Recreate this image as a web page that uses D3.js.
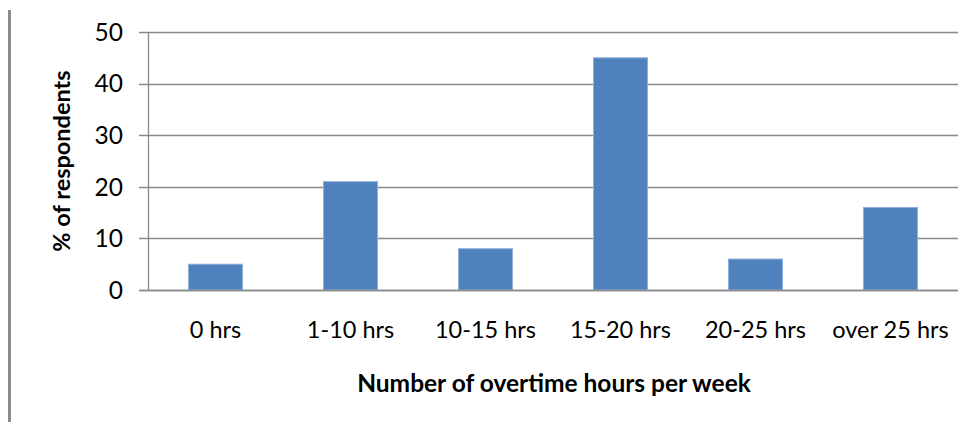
<!DOCTYPE html>
<html><head><meta charset="utf-8">
<script src="https://cdn.jsdelivr.net/npm/d3@7"></script>
<style>
html,body{margin:0;padding:0;background:#fff;}
svg text{font-family:Lato,"Open Sans",sans-serif;fill:#000;}
</style></head>
<body><svg id="c" width="973" height="425"></svg>
<script>
const categories = ["0 hrs","1-10 hrs","10-15 hrs","15-20 hrs","20-25 hrs","over 25 hrs"];
const values = [5,21,8,45,6,16];
const yTicks = [0,10,20,30,40,50];
const xTitle = "Number of overtime hours per week";
const yTitle = "% of respondents";

const svg = d3.select("#c");
const pL = 148, pR = 958, pT = 32, pB = 290;

// left border line
svg.append("line").attr("x1",9.5).attr("x2",9.5).attr("y1",10).attr("y2",422)
  .attr("stroke","#8c8c8c").attr("stroke-width",3);

const x = d3.scaleBand().domain(categories).range([pL,pR]).paddingInner(0.6).paddingOuter(0.3);
const y = d3.scaleLinear().domain([0,50]).range([pB,pT]);

// gridlines
svg.append("g").selectAll("line").data(yTicks).join("line")
  .attr("x1",pL-9).attr("x2",pR)
  .attr("y1",d=>Math.round(y(d))+0.5).attr("y2",d=>Math.round(y(d))+0.5)
  .attr("stroke","#8a8a8a").attr("stroke-width",1.3);

// y axis line
svg.append("line").attr("x1",pL+0.5).attr("x2",pL+0.5).attr("y1",pT).attr("y2",pB+1)
  .attr("stroke","#8a8a8a").attr("stroke-width",1.3);

// y tick labels
svg.append("g").selectAll("text").data(yTicks).join("text")
  .attr("x",123).attr("y",d=>y(d)+8.7).attr("text-anchor","end")
  .attr("font-size",24.5).attr("fill","#222").text(d=>d);

// bars
svg.append("g").selectAll("rect").data(values).join("rect")
  .attr("x",(d,i)=>x(categories[i])).attr("width",x.bandwidth())
  .attr("y",d=>y(d)).attr("height",d=>y(0)-y(d))
  .attr("fill","#4f81bd").attr("stroke","#8fb0dc").attr("stroke-width",1);

// baseline redraw
svg.append("line").attr("x1",pL-9).attr("x2",pR).attr("y1",pB+0.5).attr("y2",pB+0.5)
  .attr("stroke","#8a8a8a").attr("stroke-width",1.5);

// category labels
svg.append("g").selectAll("text").data(categories).join("text")
  .attr("x",d=>x(d)+x.bandwidth()/2).attr("y",338)
  .attr("text-anchor","middle").attr("font-size",23.5).attr("fill","#222").text(d=>d);

// x title
svg.append("text").attr("x",554).attr("y",391.5)
  .attr("text-anchor","middle").attr("font-size",24.5).attr("font-weight","bold").text(xTitle);

// y title
svg.append("text").attr("transform","translate(70,161) rotate(-90)")
  .attr("text-anchor","middle").attr("font-size",23.5).attr("font-weight","bold").text(yTitle);
</script></body></html>
